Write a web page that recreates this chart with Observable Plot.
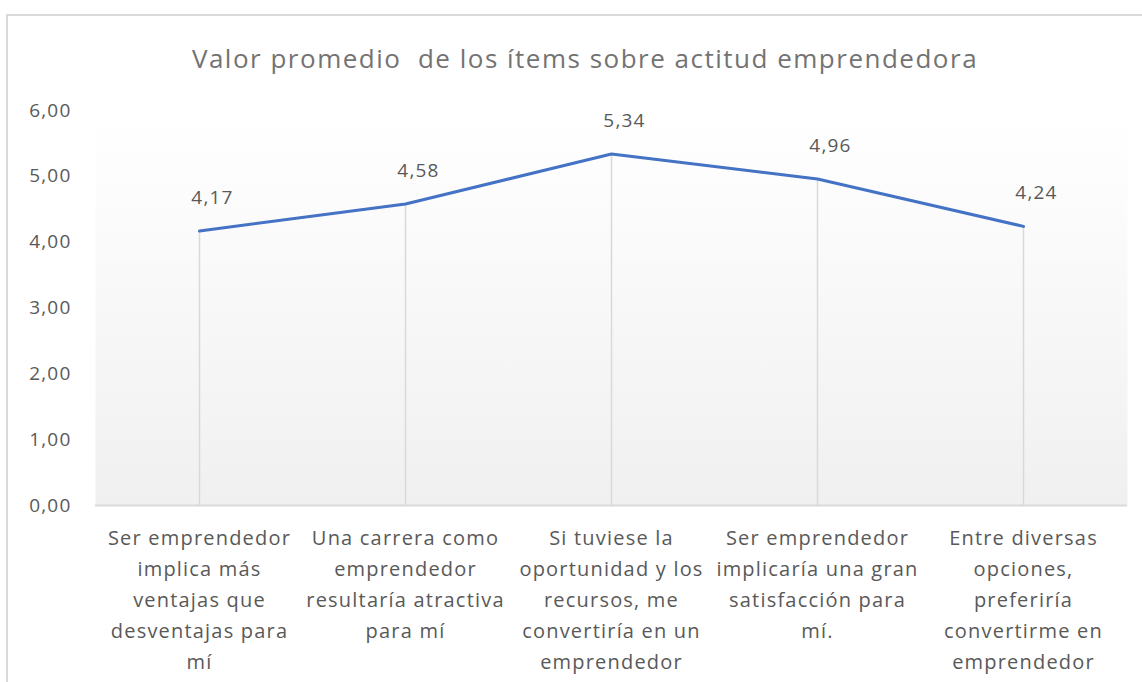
<!DOCTYPE html>
<html>
<head>
<meta charset="utf-8">
<script src="https://cdn.jsdelivr.net/npm/d3@7"></script>
<script src="https://cdn.jsdelivr.net/npm/@observablehq/plot@0.6"></script>
<style>
  html, body { margin: 0; padding: 0; width: 1142px; height: 682px; overflow: hidden; background: #fff; font-family: "Open Sans", sans-serif; }
  #frame { position: absolute; left: 6px; top: 14px; width: 1170px; height: 720px; border: 2px solid #d9d9d9; box-sizing: border-box; }
  #title { position: absolute; left: 7px; width: 1156px; top: 39px; text-align: center; font-size: 26px; color: #737373; letter-spacing: 1.5px; white-space: pre; line-height: 38px; }
  #chart { position: absolute; left: 0; top: 80px; }
  #chart svg text { letter-spacing: 1.2px; }
</style>
</head>
<body>
<div id="frame"></div>
<div id="title">Valor promedio  de los ítems sobre actitud emprendedora</div>
<div id="chart"></div>
<script>
const categories = [
  "Ser emprendedor\nimplica más\nventajas que\ndesventajas para\nmí",
  "Una carrera como\nemprendedor\nresultaría atractiva\npara mí",
  "Si tuviese la\noportunidad y los\nrecursos, me\nconvertiría en un\nemprendedor",
  "Ser emprendedor\nimplicaría una gran\nsatisfacción para\nmí.",
  "Entre diversas\nopciones,\npreferiría\nconvertirme en\nemprendedor"
];
const values = [4.17, 4.58, 5.34, 4.96, 4.24];
const yTicks = [0, 1, 2, 3, 4, 5, 6];

const data = categories.map((c, i) => ({cat: c, value: values[i]}));
const fmt = d => d.toFixed(2).replace(".", ",");

const plot = Plot.plot({
  width: 1142,
  height: 602,
  marginTop: 30,
  marginBottom: 177,
  marginLeft: 95,
  marginRight: 15,
  style: {fontFamily: "'Open Sans', sans-serif", color: "#595959", background: "transparent"},
  x: {type: "point", domain: categories, padding: 0.5, axis: null},
  y: {domain: [0, 6], ticks: yTicks, tickFormat: fmt, label: null, tickSize: 0, tickPadding: 24},
  marks: [
    Plot.frame({fill: "url(#bggrad)", stroke: "none"}),
    Plot.axisY({ticks: yTicks, tickFormat: fmt, tickSize: 0, tickPadding: 24, fontSize: 19, label: null, fill: "#595959"}),
    Plot.ruleX(data, {x: "cat", y1: 0, y2: "value", stroke: "#d9d9d9", strokeWidth: 1.5}),
    Plot.ruleY([0], {stroke: "#d9d9d9", strokeWidth: 2}),
    Plot.line(data, {x: "cat", y: "value", stroke: "#4472c4", strokeWidth: 3, strokeLinejoin: "round"}),
    Plot.text(data, {x: "cat", y: "value", text: d => fmt(d.value), dx: 13, dy: -33, fontSize: 19, fill: "#595959"}),
    Plot.text(data, {x: "cat", y: 0, text: "cat", lineAnchor: "top", dy: 18, fontSize: 20, lineHeight: 1.54, fill: "#595959"})
  ]
});

const ns = "http://www.w3.org/2000/svg";
const defs = document.createElementNS(ns, "defs");
defs.innerHTML = '<linearGradient id="bggrad" x1="0" y1="0" x2="0" y2="1"><stop offset="0" stop-color="#ffffff"/><stop offset="0.15" stop-color="#fdfdfd"/><stop offset="1" stop-color="#f0f0f0"/></linearGradient>';
plot.insertBefore(defs, plot.firstChild);
document.getElementById("chart").appendChild(plot);
</script>
</body>
</html>
